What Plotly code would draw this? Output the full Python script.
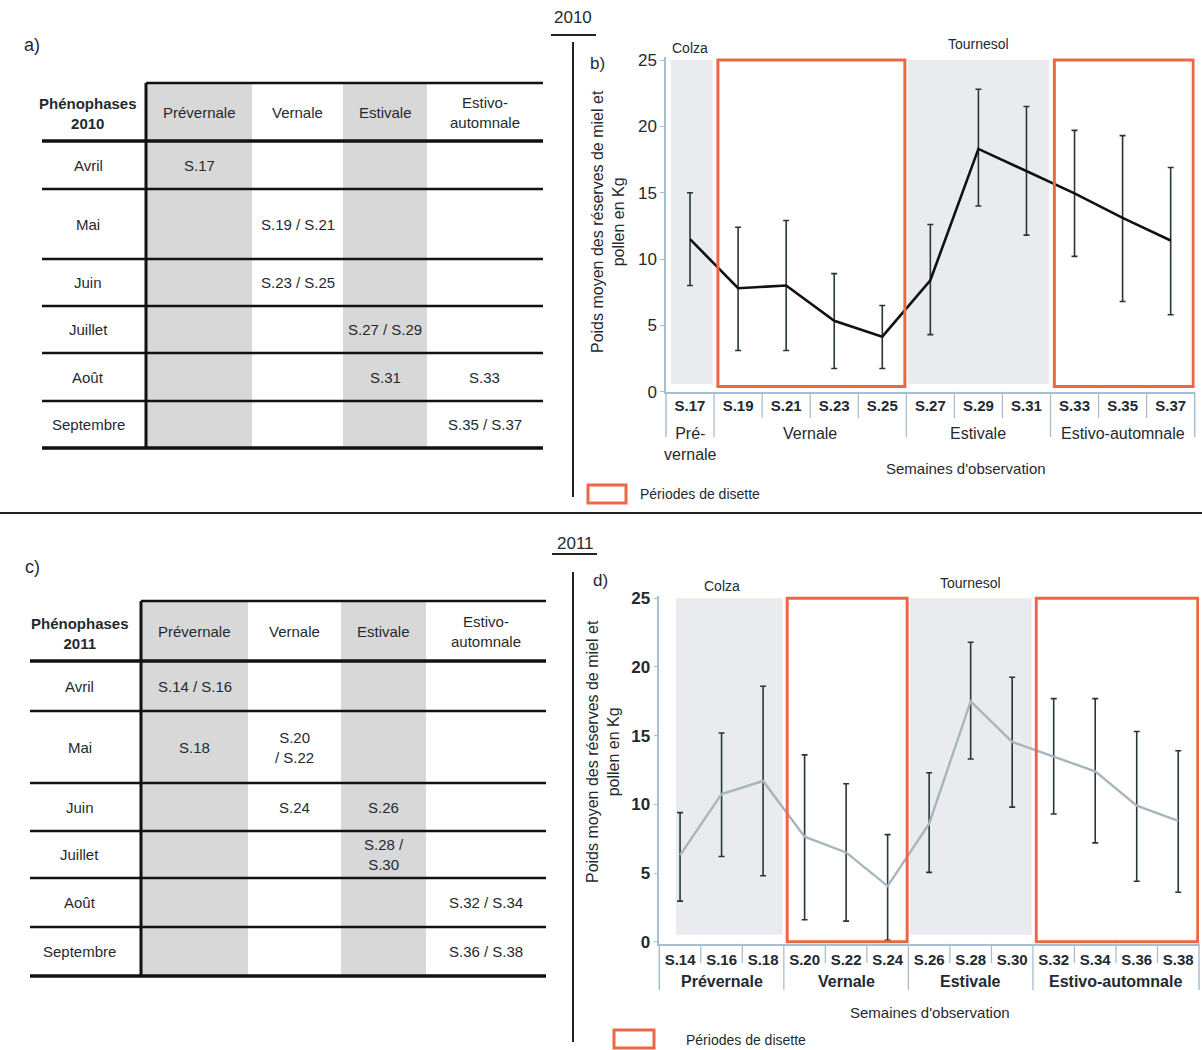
import plotly.graph_objects as go

W, H = 1202, 1050

# ---------------- DATA ----------------
# 2010 (panel b)
weeks_2010 = ["S.17", "S.19", "S.21", "S.23", "S.25", "S.27", "S.29", "S.31", "S.33", "S.35", "S.37"]
mean_2010 = [11.5, 7.8, 8.0, 5.35, 4.15, 8.4, 18.3, 16.6, 14.95, 13.1, 11.4]
low_2010 = [8.0, 3.1, 3.1, 1.75, 1.75, 4.3, 14.0, 11.8, 10.2, 6.8, 5.8]
high_2010 = [15.0, 12.4, 12.9, 8.9, 6.5, 12.6, 22.8, 21.5, 19.7, 19.3, 16.9]
phase_labels_2010 = ["Pré-<br>vernale", "Vernale", "Estivale", "Estivo-automnale"]
phase_sizes_2010 = [1, 4, 3, 3]

# 2011 (panel d)
weeks_2011 = ["S.14", "S.16", "S.18", "S.20", "S.22", "S.24", "S.26", "S.28", "S.30", "S.32", "S.34", "S.36", "S.38"]
mean_2011 = [6.3, 10.75, 11.7, 7.65, 6.5, 4.05, 8.6, 17.5, 14.55, 13.5, 12.4, 9.9, 8.8]
low_2011 = [2.96, 6.2, 4.8, 1.6, 1.5, 0.1, 5.05, 13.3, 9.8, 9.3, 7.2, 4.4, 3.6]
high_2011 = [9.4, 15.2, 18.6, 13.6, 11.5, 7.8, 12.3, 21.8, 19.25, 17.7, 17.7, 15.3, 13.9]
phase_labels_2011 = ["Prévernale", "Vernale", "Estivale", "Estivo-automnale"]
phase_sizes_2011 = [3, 3, 3, 4]

crop_phase_idx = [0, 2]
crop_labels = ["Colza", "Tournesol"]
disette_phase_idx = [1, 3]
legend_text = "Périodes de disette"
y_title = "Poids moyen des réserves de miel et<br>pollen en Kg"
x_title = "Semaines d'observation"
y_ticks = [0, 5, 10, 15, 20, 25]

# Tables (a, c)
table_months = ["Avril", "Mai", "Juin", "Juillet", "Août", "Septembre"]
table_phases = ["Prévernale", "Vernale", "Estivale", "Estivo-<br>automnale"]
table_cells_2010 = [(0, 0, "S.17"), (1, 1, "S.19 / S.21"), (2, 1, "S.23 / S.25"),
                    (3, 2, "S.27 / S.29"), (4, 2, "S.31"), (4, 3, "S.33"), (5, 3, "S.35 / S.37")]
table_cells_2011 = [(0, 0, "S.14 / S.16"), (1, 0, "S.18"), (1, 1, "S.20<br>/ S.22"), (2, 1, "S.24"),
                    (2, 2, "S.26"), (3, 2, "S.28 /<br>S.30"), (4, 3, "S.32 / S.34"), (5, 3, "S.36 / S.38")]

# ---------------- STYLE / HELPERS ----------------
TXT = '#1f2a30'
AX = '#a9bfcf'
RED = '#ec6845'
SHADE = '#e9ebee'
TGRAY = '#d8d8d8'
ERR = '#27363d'
FONT = 'Arial, Liberation Sans, sans-serif'


def X(px):
    return px / W


def Y(py):
    return 1 - py / H


shapes = []
annotations = []


def ann(text, x, y, size=15, bold=False, xanchor='center', yanchor='middle',
        xref='paper', yref='paper', angle=0, color=TXT):
    annotations.append(dict(text=text, x=x, y=y, xref=xref, yref=yref, showarrow=False,
                            xanchor=xanchor, yanchor=yanchor, textangle=angle,
                            font=dict(size=size, color=color, family=FONT,
                                      weight='bold' if bold else 'normal')))


def pline(x0, y0, x1, y1, width=2, color='#111'):
    shapes.append(dict(type='line', xref='paper', yref='paper', x0=X(x0), y0=Y(y0),
                       x1=X(x1), y1=Y(y1), line=dict(color=color, width=width), layer='above'))


def prect(x0, y0, x1, y1, fill='rgba(0,0,0,0)', lc='rgba(0,0,0,0)', lw=0, layer='below'):
    shapes.append(dict(type='rect', xref='paper', yref='paper', x0=X(x0), y0=Y(y0),
                       x1=X(x1), y1=Y(y1), fillcolor=fill, line=dict(color=lc, width=lw), layer=layer))


fig = go.Figure()

panels = [
    dict(weeks=weeks_2010, mean=mean_2010, low=low_2010, high=high_2010,
         phases=phase_labels_2010, sizes=phase_sizes_2010, xa='x', ya='y',
         xdom=(666, 1194.7), ydom=(391.7, 56.7), yrange=(0, 25.25),
         line_color='#111111', line_width=2.6, tick_size=15, ytick_bold=False,
         tick_standoff=0, phase_bold=False, phase_size=16, phase_y=423, phase_anchor='top',
         sep_short=418, sep_long=437, gray_bottom=0.6, red_bottom=0.4, first_gray_in=0.1,
         crop_y=[48, 44], letter='b)', letter_pos=(597, 63), ytitle_pos=(608, 222),
         xtitle_pos=(966, 468), legend_box=(588, 485, 626, 503), legend_txt=(638, 494),
         year='2010', year_pos=(573, 17), underline=(551, 596, 35), vline=(573, 42, 497)),
    dict(weeks=weeks_2011, mean=mean_2011, low=low_2011, high=high_2011,
         phases=phase_labels_2011, sizes=phase_sizes_2011, xa='x2', ya='y2',
         xdom=(659.3, 1199), ydom=(943.8, 595.55), yrange=(-0.15, 25.2),
         line_color='#a6b6bb', line_width=2.4, tick_size=15, ytick_bold=True,
         tick_standoff=1, phase_bold=True, phase_size=16, phase_y=981, phase_anchor='middle',
         sep_short=963, sep_long=990, gray_bottom=0.5, red_bottom=0.0, first_gray_in=0.4,
         crop_y=[586, 583], letter='d)', letter_pos=(600, 580), ytitle_pos=(603, 752),
         xtitle_pos=(930, 1012), legend_box=(614, 1030, 654, 1048), legend_txt=(684, 1040),
         year='2011', year_pos=(575, 543), underline=(552, 597, 554), vline=(573, 572, 1042)),
]

layout_axes = {}
for p in panels:
    n = len(p['weeks'])
    err_plus = [h - m for h, m in zip(p['high'], p['mean'])]
    err_minus = [m - l for m, l in zip(p['mean'], p['low'])]
    fig.add_trace(go.Scatter(
        x=p['weeks'], y=p['mean'], mode='lines', xaxis=p['xa'], yaxis=p['ya'],
        line=dict(color=p['line_color'], width=p['line_width']),
        error_y=dict(type='data', symmetric=False, array=err_plus, arrayminus=err_minus,
                     color=ERR, thickness=1.6, width=3),
        showlegend=False, hoverinfo='skip'))

    xkey = 'xaxis' if p['xa'] == 'x' else 'xaxis' + p['xa'][1:]
    ykey = 'yaxis' if p['ya'] == 'y' else 'yaxis' + p['ya'][1:]
    layout_axes[xkey] = dict(
        domain=[X(p['xdom'][0]), X(p['xdom'][1])], anchor=p['ya'], type='category',
        range=[-0.5, n - 0.5], showline=True, linecolor=AX, linewidth=1.5, automargin=False,
        showgrid=False, zeroline=False, ticks='', ticklabelstandoff=p['tick_standoff'],
        tickfont=dict(size=p['tick_size'], color=TXT, family=FONT, weight='bold'))
    layout_axes[ykey] = dict(
        domain=[Y(p['ydom'][0]), Y(p['ydom'][1])], anchor=p['xa'], range=list(p['yrange']),
        tickvals=y_ticks, showline=True, linecolor=AX, linewidth=1.5, ticks='outside',
        ticklen=4, tickcolor=AX, showgrid=False, zeroline=False, automargin=False,
        tickfont=dict(size=17, color=TXT, family=FONT,
                      weight='bold' if p['ytick_bold'] else 'normal'))

    # phase boundaries
    starts = []
    s = 0
    for size in p['sizes']:
        starts.append(s)
        s += size
    bounds = set(st - 0.5 for st in starts[1:])

    # shaded crop periods & disette boxes
    for k, ph in enumerate(crop_phase_idx):
        st, sz = starts[ph], p['sizes'][ph]
        x0 = st - 0.5 + (p['first_gray_in'] if ph == 0 else 0.04)
        shapes.append(dict(type='rect', xref=p['xa'], yref=p['ya'], x0=x0, x1=st + sz - 0.5 - 0.03,
                           y0=p['gray_bottom'], y1=25, fillcolor=SHADE, line=dict(width=0),
                           layer='below'))
        ann(crop_labels[k], st + (sz - 1) / 2, Y(p['crop_y'][k]), size=14, xref=p['xa'])
    for ph in disette_phase_idx:
        st, sz = starts[ph], p['sizes'][ph]
        shapes.append(dict(type='rect', xref=p['xa'], yref=p['ya'], x0=st - 0.5 + 0.08,
                           x1=st + sz - 0.5 - 0.03, y0=p['red_bottom'], y1=25,
                           fillcolor='rgba(0,0,0,0)', line=dict(color=RED, width=3), layer='above'))

    # separators under the axis
    for i in range(n - 1):
        b = i + 0.5
        y1 = p['sep_long'] if b in bounds else p['sep_short']
        shapes.append(dict(type='line', xref=p['xa'], yref='paper', x0=b, x1=b,
                           y0=Y(p['ydom'][0]), y1=Y(y1), line=dict(color=AX, width=1.3)))
    for xd in (0, 1):
        shapes.append(dict(type='line', xref=p['xa'] + ' domain', yref='paper', x0=xd, x1=xd,
                           y0=Y(p['ydom'][0]), y1=Y(p['sep_long']), line=dict(color=AX, width=1.5)))

    # phase labels
    for k, lab in enumerate(p['phases']):
        st, sz = starts[k], p['sizes'][k]
        ann(lab, st + (sz - 1) / 2, Y(p['phase_y']), size=p['phase_size'], bold=p['phase_bold'],
            xref=p['xa'], yanchor=p['phase_anchor'])

    # titles and decorations
    ann(y_title, X(p['ytitle_pos'][0]), Y(p['ytitle_pos'][1]), size=16, angle=-90)
    ann(x_title, X(p['xtitle_pos'][0]), Y(p['xtitle_pos'][1]), size=15)
    ann(p['letter'], X(p['letter_pos'][0]), Y(p['letter_pos'][1]), size=17)
    lb = p['legend_box']
    prect(lb[0], lb[1], lb[2], lb[3], lc=RED, lw=3, layer='above')
    ann(legend_text, X(p['legend_txt'][0]), Y(p['legend_txt'][1]), size=14, xanchor='left')
    ann(p['year'], X(p['year_pos'][0]), Y(p['year_pos'][1]), size=17)
    u = p['underline']
    pline(u[0], u[2], u[1], u[2], width=2, color='#222')
    v = p['vline']
    pline(v[0], v[1], v[0], v[2], width=2, color='#222')

# horizontal separator between years
pline(0, 513, W, 513, width=2, color='#222')

# ---------------- TABLES ----------------
tables = [
    dict(title="Phénophases<br>2010", cells=table_cells_2010, letter='a)', letter_pos=(32, 45),
         left=42, cols=[146, 252, 343, 427, 543], top=83, header=141,
         rows=[189, 259, 306, 353, 401, 448]),
    dict(title="Phénophases<br>2011", cells=table_cells_2011, letter='c)', letter_pos=(32, 567),
         left=30, cols=[141, 248, 341, 426, 546], top=601, header=661,
         rows=[711, 783, 831, 878, 927, 976]),
]

for t in tables:
    cols = t['cols']
    bottom = t['rows'][-1]
    for ci in (0, 2):
        prect(cols[ci], t['top'], cols[ci + 1], bottom, fill=TGRAY)
    pline(cols[0], t['top'], cols[-1], t['top'], width=2.5)
    pline(t['left'], t['header'], cols[-1], t['header'], width=3.5)
    for k, r in enumerate(t['rows']):
        pline(t['left'], r, cols[-1], r, width=3.5 if k == len(t['rows']) - 1 else 2.5)
    pline(cols[0], t['top'], cols[0], bottom, width=3)
    label_x = (t['left'] + cols[0]) / 2 - 6
    hy = (t['top'] + t['header']) / 2 + 2
    ann(t['title'], X(label_x), Y(hy), size=15, bold=True)
    for ci, ph in enumerate(table_phases):
        ann(ph, X((cols[ci] + cols[ci + 1]) / 2), Y(hy - 2), size=15)
    edges = [t['header']] + t['rows']
    for ri, m in enumerate(table_months):
        ann(m, X(label_x), Y((edges[ri] + edges[ri + 1]) / 2), size=15)
    for (ri, ci, txt) in t['cells']:
        ann(txt, X((cols[ci] + cols[ci + 1]) / 2), Y((edges[ri] + edges[ri + 1]) / 2), size=15)
    ann(t['letter'], X(t['letter_pos'][0]), Y(t['letter_pos'][1]), size=18)

fig.update_layout(
    width=W, height=H, margin=dict(l=0, r=0, t=0, b=0, pad=0, autoexpand=False),
    paper_bgcolor='white', plot_bgcolor='rgba(0,0,0,0)',
    font=dict(family=FONT, color=TXT),
    shapes=shapes, annotations=annotations, showlegend=False,
    **layout_axes)

fig.write_html("out.html", config={'displayModeBar': False},
               post_script="document.body.style.margin='0';document.body.style.padding='0';"
                           "document.body.style.overflow='hidden';")
